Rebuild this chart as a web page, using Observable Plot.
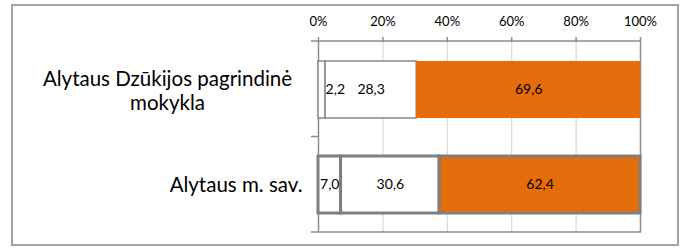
<!DOCTYPE html>
<html>
<head>
<meta charset="utf-8">
<script src="https://cdn.jsdelivr.net/npm/d3@7"></script>
<script src="https://cdn.jsdelivr.net/npm/@observablehq/plot@0.6"></script>
<style>
  html, body { margin: 0; padding: 0; background: #fff; }
  #wrap { position: relative; width: 680px; height: 249px; overflow: hidden; }
  #box { position: absolute; left: 11px; top: 4px; width: 668px; height: 242px; border: 2px solid #a3a3a3; box-sizing: border-box; pointer-events: none; }
</style>
</head>
<body>
<div id="wrap"><div id="box"></div></div>
<script>
// ---- data ----
const categories = ["Alytaus Dzūkijos pagrindinė mokykla", "Alytaus m. sav."];
const categoryLabels = ["Alytaus Dzūkijos pagrindinė\nmokykla", "Alytaus m. sav."];
const seriesNames = ["1 grupė", "2 grupė", "3 grupė"];
const schoolValues = [2.2, 28.3, 69.6];
const municipalityValues = [7.0, 30.6, 62.4];
const seriesColors = ["#ffffff", "#ffffff", "#E46C0A"];
const xTicks = [0, 20, 40, 60, 80, 100];
const gridTicks = [20, 40, 60, 80];

const rows = [];
[schoolValues, municipalityValues].forEach((vals, ci) => {
  vals.forEach((v, si) => rows.push({cat: categories[ci], label: categoryLabels[ci], seg: seriesNames[si], si, value: v, color: seriesColors[si]}));
});
const fmt = v => v.toFixed(1).replace(".", ",");
const FONT = "Lato, 'Open Sans', sans-serif";

const frameMark = (index, scales, values, dims) => {
  const {width, height, marginLeft, marginRight, marginTop, marginBottom} = dims;
  const g = d3.create("svg:g").attr("stroke", "#8c8c8c").attr("stroke-width", 1.5);
  const top = marginTop, bot = height - marginBottom, mid = (top + bot) / 2;
  const left = marginLeft, right = width - marginRight;
  g.append("line").attr("x1", left - 7).attr("x2", right + 1).attr("y1", top).attr("y2", top);
  g.append("line").attr("x1", left - 7).attr("x2", right + 1).attr("y1", bot).attr("y2", bot);
  g.append("line").attr("x1", left - 7).attr("x2", left).attr("y1", mid).attr("y2", mid);
  return g.node();
};

const plot = Plot.plot({
  width: 680,
  height: 249,
  marginLeft: 318,
  marginRight: 40,
  marginTop: 41,
  marginBottom: 17,
  style: {fontFamily: FONT, background: "transparent", overflow: "visible"},
  x: {domain: [0, 100], axis: null},
  y: {domain: categories, paddingInner: 0.4, paddingOuter: 0.2, axis: null},
  marks: [
    Plot.gridX(gridTicks, {stroke: "#d9d9d9", strokeOpacity: 1, strokeWidth: 1.2}),
    Plot.ruleX([0, 100], {stroke: "#8c8c8c", strokeWidth: 1.5}),
    Plot.axisX({anchor: "top", ticks: xTicks, tickFormat: d => d + "%", tickSize: 5, tickPadding: 11,
      stroke: "#8c8c8c", strokeWidth: 1.5, fontSize: 13, fill: "#000", label: null}),
    frameMark,
    Plot.barX(rows.filter(d => d.cat === categories[0]), {
      x: "value", y: "cat", fill: "color",
      stroke: d => d.si === 2 ? "transparent" : "#7f7f7f", strokeWidth: 1.4
    }),
    Plot.barX(rows.filter(d => d.cat === categories[1]), {
      x: "value", y: "cat", fill: "color", stroke: "#7f7f7f", strokeWidth: 3
    }),
    Plot.text(rows, Plot.stackX({x: "value", y: "cat", text: d => d.value >= 5 ? fmt(d.value) : "",
      fontSize: 14, fill: "#000"})),
    Plot.text(rows, Plot.stackX2({x: "value", y: "cat", text: d => d.value < 5 ? fmt(d.value) : "",
      fontSize: 14, fill: "#000", textAnchor: "start", dx: 0})),
    Plot.text(rows.filter(d => d.si === 0 && d.cat === categories[0]), {x: 0, y: "cat", text: "label",
      textAnchor: "middle", dx: -151, fontSize: 20.5, lineHeight: 1.2, fill: "#000"}),
    Plot.text(rows.filter(d => d.si === 0 && d.cat === categories[1]), {x: 0, y: "cat", text: "label",
      textAnchor: "end", dx: -16, fontSize: 20.5, fill: "#000"})
  ]
});
document.getElementById("wrap").insertBefore(plot, document.getElementById("box"));
</script>
</body>
</html>
